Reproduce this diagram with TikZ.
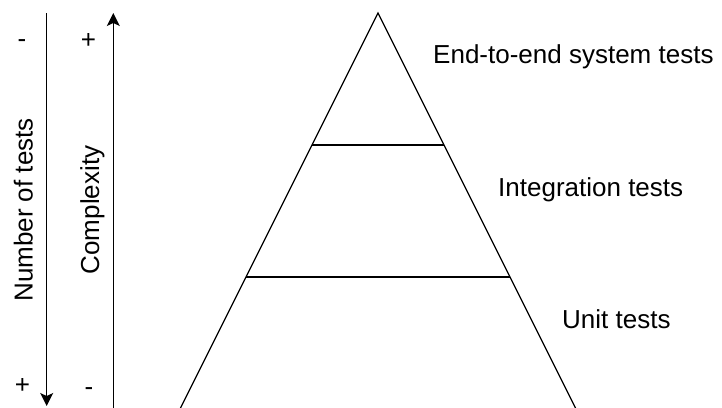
\documentclass[tikz,border=0pt]{standalone}
\usepackage{fontspec}
\setmainfont{Liberation Sans}
\usetikzlibrary{arrows.meta}
\begin{document}
\begin{tikzpicture}[x=1pt,y=-1pt,
  lbl/.style={inner sep=0pt, font=\fontsize{26}{30}\selectfont},
  edge/.style={line width=1.3pt, black},
  axis/.style={line width=1.3pt, -{Stealth[length=13pt,width=13pt,inset=3pt]}}]
\useasboundingbox (0,0) rectangle (722,407);
\clip (0,0) rectangle (722,407);
% pyramid
\coordinate (apex) at (378,13);
\coordinate (bl) at (177,415);
\coordinate (br) at (579,415);
\coordinate (l1) at (312,145);
\coordinate (r1) at (444,145);
\coordinate (l2) at (246,277);
\coordinate (r2) at (510,277);
\draw[edge] (bl) -- (apex) -- (br);
\draw[edge] (l1) -- (r1);
\draw[edge] (l2) -- (r2);
% labels
\node[lbl, anchor=base west] (e2e) at (433,63) {End-to-end system tests};
\node[lbl, anchor=base west] (integ) at (498,196) {Integration tests};
\node[lbl, anchor=base west] (unit) at (562,328) {Unit tests};
% axes
\coordinate (n0) at (46.7,13);
\coordinate (n1) at (46.7,406);
\coordinate (c0) at (113.3,410);
\coordinate (c1) at (113.3,13);
\draw[axis] (n0) -- (n1);
\draw[axis] (c0) -- (c1);
\node[lbl, rotate=90, anchor=base] (num) at (32.5,210) {Number of tests};
\node[lbl, rotate=90, anchor=base] (cpx) at (99,210) {Complexity};
\node[lbl, anchor=base] (m1) at (22,47) {-};
\node[lbl, anchor=base] (p1) at (88.5,48) {+};
\node[lbl, anchor=base] (p2) at (22.5,393) {+};
\node[lbl, anchor=base] (m2) at (89,395) {-};
\end{tikzpicture}
\end{document}
